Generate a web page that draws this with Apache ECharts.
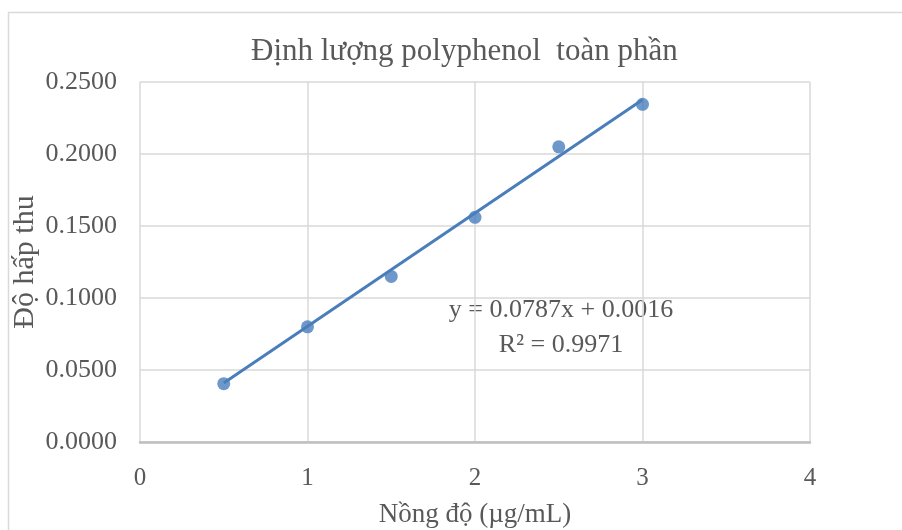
<!DOCTYPE html>
<html>
<head>
<meta charset="utf-8">
<script src="https://cdn.jsdelivr.net/npm/echarts@6/dist/echarts.min.js"></script>
<style>
html,body{margin:0;padding:0;background:#fff;}
#chart{width:902px;height:530px;}
</style>
</head>
<body>
<div id="chart"></div>
<script>
var titleText = 'Định lượng polyphenol  toàn phần';
var xAxisTitle = 'Nồng độ (µg/mL)';
var yAxisTitle = 'Độ hấp thu';
var concentrations = [0.5, 1, 1.5, 2, 2.5, 3];
var absorbances = [0.0405, 0.0800, 0.1150, 0.1560, 0.2050, 0.2345];
var slope = 0.0787;
var intercept = 0.0016;
var equationText = 'y = 0.0787x + 0.0016';
var r2Text = 'R² = 0.9971';
var trendX = [0.5, 3];

var trendData = trendX.map(function (x) { return [x, slope * x + intercept]; });
var pointData = concentrations.map(function (x, i) { return [x, absorbances[i]]; });

var font = '"Liberation Serif", "Times New Roman", serif';
var textColor = '#595959';
var blue = '#4a7ebb';

var chart = echarts.init(document.getElementById('chart'));
chart.setOption({
  animation: false,
  backgroundColor: '#fff',
  title: {
    text: titleText,
    left: 246,
    top: 31,
    textStyle: { fontFamily: font, fontSize: 31, fontWeight: 'normal', color: textColor }
  },
  grid: { left: 140, right: 92, top: 82, bottom: 88, containLabel: false, outerBoundsMode: 'none' },
  xAxis: {
    type: 'value', min: 0, max: 4, interval: 1,
    name: xAxisTitle, nameLocation: 'middle', nameGap: 59, nameMoveOverlap: false,
    nameTextStyle: { fontFamily: font, fontSize: 27, color: textColor },
    axisLine: { show: true, lineStyle: { color: '#bfbfbf', width: 2.5 } },
    axisTick: { show: false },
    axisLabel: { fontFamily: font, fontSize: 25, color: textColor, margin: 24 },
    splitLine: { show: true, lineStyle: { color: '#d9d9d9', width: 1.5 } }
  },
  yAxis: {
    type: 'value', min: 0, max: 0.25, interval: 0.05,
    name: yAxisTitle, nameLocation: 'middle', nameGap: 100, nameMoveOverlap: false,
    nameTextStyle: { fontFamily: font, fontSize: 30, color: textColor },
    axisLine: { show: false },
    axisTick: { show: false },
    axisLabel: { fontFamily: font, fontSize: 26, color: textColor, margin: 23,
      formatter: function (v) { return v.toFixed(4); } },
    splitLine: { show: true, lineStyle: { color: '#d9d9d9', width: 1.5 } }
  },
  series: [
    {
      type: 'line', data: trendData, showSymbol: false, symbol: 'none',
      lineStyle: { color: blue, width: 3 }, z: 2, silent: true
    },
    {
      type: 'scatter', data: pointData, symbol: 'circle', symbolSize: 13,
      itemStyle: { color: blue }, z: 3
    }
  ],
  graphic: [
    { type: 'text', x: 561, y: 310, style: { text: equationText, font: '26px ' + font, fill: textColor, align: 'center', verticalAlign: 'middle' } },
    { type: 'text', x: 561, y: 345, style: { text: r2Text, font: '26px ' + font, fill: textColor, align: 'center', verticalAlign: 'middle' } },
    { type: 'rect', shape: { x: 8.5, y: 12.5, width: 1000, height: 600 }, style: { fill: 'none', stroke: '#d9d9d9', lineWidth: 1.5 }, silent: true, z: -1 }
  ]
});
</script>
</body>
</html>
